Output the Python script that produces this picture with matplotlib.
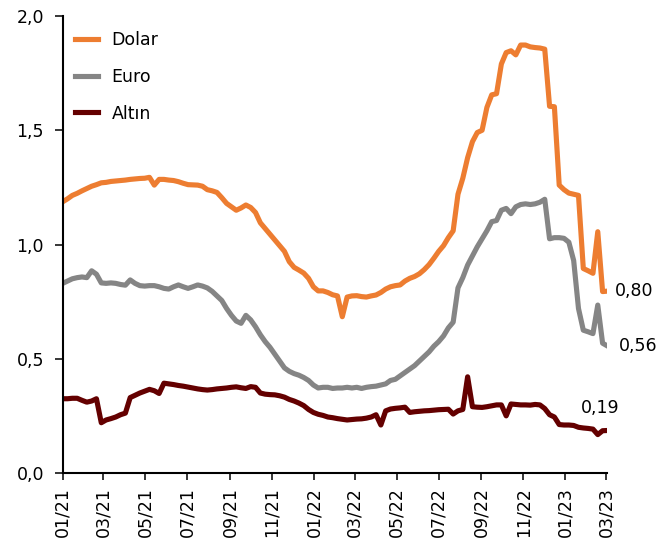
import matplotlib
matplotlib.use("Agg")
import matplotlib.pyplot as plt
import matplotlib.dates as mdates
from matplotlib.ticker import FuncFormatter
import pandas as pd

# Weekly observations, Jan 2021 - Mar 2023
dates = pd.date_range("2021-01-01", periods=114, freq="7D")

dolar = [1.187, 1.20, 1.215, 1.224, 1.235, 1.245, 1.255, 1.262, 1.27, 1.272,
         1.276, 1.278, 1.28, 1.282, 1.285, 1.287, 1.289, 1.29, 1.294, 1.26,
         1.285, 1.285, 1.282, 1.28, 1.275, 1.268, 1.262, 1.261, 1.26, 1.255,
         1.24, 1.235, 1.228, 1.205, 1.18, 1.165, 1.15, 1.16, 1.173, 1.162,
         1.14, 1.095, 1.07, 1.045, 1.02, 0.995, 0.97, 0.925, 0.90, 0.888,
         0.875, 0.852, 0.815, 0.797, 0.797, 0.79, 0.78, 0.775, 0.684, 0.77,
         0.775, 0.776, 0.772, 0.77, 0.775, 0.779, 0.79, 0.805, 0.815, 0.82,
         0.823, 0.84, 0.852, 0.86, 0.872, 0.89, 0.912, 0.94, 0.97, 0.995,
         1.03, 1.06, 1.22, 1.29, 1.38, 1.45, 1.49, 1.50, 1.60, 1.655,
         1.66, 1.79, 1.84, 1.848, 1.83, 1.873, 1.873, 1.865, 1.862, 1.86,
         1.855, 1.605, 1.603, 1.26, 1.24, 1.225, 1.22, 1.215, 0.895, 0.885,
         0.874, 1.056, 0.794, 0.796]

euro = [0.830, 0.84, 0.85, 0.855, 0.858, 0.855, 0.885, 0.87, 0.832, 0.83,
        0.832, 0.83, 0.825, 0.822, 0.845, 0.83, 0.82, 0.818, 0.82, 0.82,
        0.815, 0.808, 0.805, 0.815, 0.823, 0.815, 0.808, 0.815, 0.823, 0.818,
        0.81, 0.795, 0.775, 0.755, 0.72, 0.69, 0.665, 0.655, 0.69, 0.67,
        0.64, 0.605, 0.575, 0.55, 0.52, 0.49, 0.46, 0.445, 0.435, 0.428,
        0.418, 0.405, 0.385, 0.372, 0.375, 0.375, 0.37, 0.372, 0.372, 0.375,
        0.372, 0.375, 0.37, 0.375, 0.378, 0.38, 0.385, 0.39, 0.405, 0.41,
        0.425, 0.44, 0.455, 0.47, 0.49, 0.51, 0.53, 0.555, 0.575, 0.60,
        0.635, 0.66, 0.81, 0.855, 0.91, 0.95, 0.99, 1.025, 1.06, 1.10,
        1.105, 1.15, 1.158, 1.135, 1.165, 1.175, 1.178, 1.175, 1.178, 1.185,
        1.198, 1.025, 1.03, 1.03, 1.027, 1.01, 0.93, 0.72, 0.625, 0.618,
        0.61, 0.735, 0.568, 0.556]

altin = [0.325, 0.325, 0.327, 0.327, 0.318, 0.31, 0.315, 0.325, 0.22, 0.232,
         0.238, 0.245, 0.255, 0.262, 0.33, 0.34, 0.35, 0.358, 0.366, 0.36,
         0.348, 0.393, 0.39, 0.387, 0.383, 0.38, 0.376, 0.372, 0.368, 0.365,
         0.363, 0.365, 0.368, 0.37, 0.372, 0.375, 0.377, 0.373, 0.37, 0.378,
         0.375, 0.35, 0.345, 0.343, 0.342, 0.338, 0.332, 0.322, 0.315, 0.306,
         0.295, 0.278, 0.265, 0.257, 0.252, 0.245, 0.242, 0.238, 0.235, 0.232,
         0.234, 0.236, 0.237, 0.24, 0.245, 0.255, 0.21, 0.272, 0.28, 0.283,
         0.285, 0.288, 0.265, 0.268, 0.27, 0.272, 0.273, 0.275, 0.277, 0.278,
         0.279, 0.258, 0.272, 0.278, 0.421, 0.29, 0.288, 0.287, 0.29, 0.294,
         0.298, 0.298, 0.25, 0.302, 0.30, 0.298, 0.298, 0.297, 0.30, 0.298,
         0.282, 0.255, 0.245, 0.212, 0.21, 0.21, 0.208, 0.20, 0.197, 0.195,
         0.192, 0.168, 0.185, 0.186]

labels = ["Dolar", "Euro", "Altın"]
end_labels = ["0,80", "0,56", "0,19"]
colors = ["#ED7D31", "#858585", "#640000"]

plt.rcParams["font.family"] = "DejaVu Sans"
plt.rcParams["font.size"] = 12.5

fig = plt.figure(figsize=(6.65, 5.47), dpi=100)
ax = fig.add_axes([0.0943, 0.1353, 0.8191, 0.8354])

series = [dolar, euro, altin]
for values, name, color in zip(series, labels, colors):
    ax.plot(dates, values, color=color, lw=3.7, label=name, solid_joinstyle="round")

# value labels next to the last point (pixel offsets)
offsets = [(7, 0, "left"), (11, 0, "left"), (-7, 22, "center")]
for values, text, (dx, dy, ha) in zip(series, end_labels, offsets):
    ax.annotate(text, (dates[-1], values[-1]), xytext=(dx, dy),
                textcoords="offset pixels", ha=ha, va="center")

ax.set_ylim(0, 2.0)
ax.set_xlim(dates[0], dates[-1])
ax.set_yticks([0, 0.5, 1.0, 1.5, 2.0])
ax.yaxis.set_major_formatter(FuncFormatter(lambda v, _: f"{v:.1f}".replace(".", ",")))

ax.xaxis.set_major_locator(mdates.MonthLocator(bymonth=[1, 3, 5, 7, 9, 11]))
ax.xaxis.set_major_formatter(mdates.DateFormatter("%m/%y"))
plt.setp(ax.get_xticklabels(), rotation=90)

for side in ["top", "right"]:
    ax.spines[side].set_visible(False)
for side in ["left", "bottom"]:
    ax.spines[side].set_linewidth(1.5)
ax.tick_params(axis="y", length=5.5, width=1.1, pad=8)
ax.tick_params(axis="x", length=5.3, width=1.1, pad=5)

ax.legend(loc="upper left", bbox_to_anchor=(0.0, 0.993), frameon=False,
          borderaxespad=0.3, handlelength=1.32, labelspacing=1.07,
          handletextpad=0.8)

fig.savefig("out.png", dpi=100)
